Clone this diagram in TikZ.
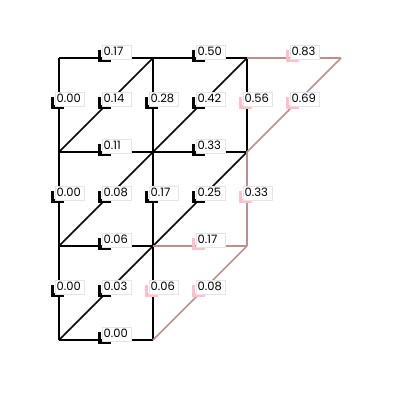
\documentclass[tikz,border=0pt]{standalone}
\usepackage{fontspec}
\setmainfont{Poppins}
\definecolor{rb}{RGB}{188,143,143}
\definecolor{pk}{RGB}{255,192,203}
\begin{document}
\begin{tikzpicture}[x=1pt,y=-1pt,
  edgeb/.style={line width=1.5pt,black},
  edgep/.style={line width=1.5pt,rb},
  lbl/.style={fill=white,draw=black!10,line width=0.4pt,inner xsep=1.5pt,inner ysep=2pt,
    text width=26pt,align=left,text height=8.5pt,text depth=1.5pt,font=\fontsize{11.5}{13}\selectfont}]
\useasboundingbox (0,0) rectangle (400,400);
\foreach \i in {0,...,3}{\foreach \j in {0,...,3}{\coordinate (v\i\j) at ({59+94*\i},{58+94*\j});}}
% black edges
\draw[edgeb] (v00) -- (v10) -- (v20);
\draw[edgeb] (v00) -- (v03);
\draw[edgeb] (v10) -- (v13);
\draw[edgeb] (v20) -- (v21);
\draw[edgeb] (v01) -- (v21);
\draw[edgeb] (v02) -- (v12);
\draw[edgeb] (v03) -- (v13);
\draw[edgeb] (v01) -- (v10);
\draw[edgeb] (v02) -- (v20);
\draw[edgeb] (v03) -- (v21);
% pink edges
\draw[edgep] (v20) -- (v30);
\draw[edgep] (v21) -- (v22);
\draw[edgep] (v12) -- (v22);
\draw[edgep] (v13) -- (v22);
\draw[edgep] (v21) -- (v30);
% labels
\foreach \x/\y/\t/\c [count=\n] in {
 106/58/0.17/black, 200/58/0.50/black, 294/58/0.83/pk,
 106/152/0.11/black, 200/152/0.33/black,
 106/246/0.06/black, 200/246/0.17/pk,
 106/340/0.00/black,
 59/105/0.00/black, 153/105/0.28/black, 247/105/0.56/pk,
 59/199/0.00/black, 153/199/0.17/black, 247/199/0.33/pk,
 59/293/0.00/black, 153/293/0.06/pk,
 106/105/0.14/black, 106/199/0.08/black, 200/105/0.42/black,
 106/293/0.03/black, 200/199/0.25/black, 200/293/0.08/pk, 294/105/0.69/pk}{
  \fill[\c] (\x-8,\y-8) rectangle (\x-5,\y+4);
  \fill[\c] (\x-8,\y) rectangle (\x+5,\y+4);
  \node[lbl,anchor=south west] (L\n) at (\x-4,\y+1) {\t};
}
\end{tikzpicture}
\end{document}
